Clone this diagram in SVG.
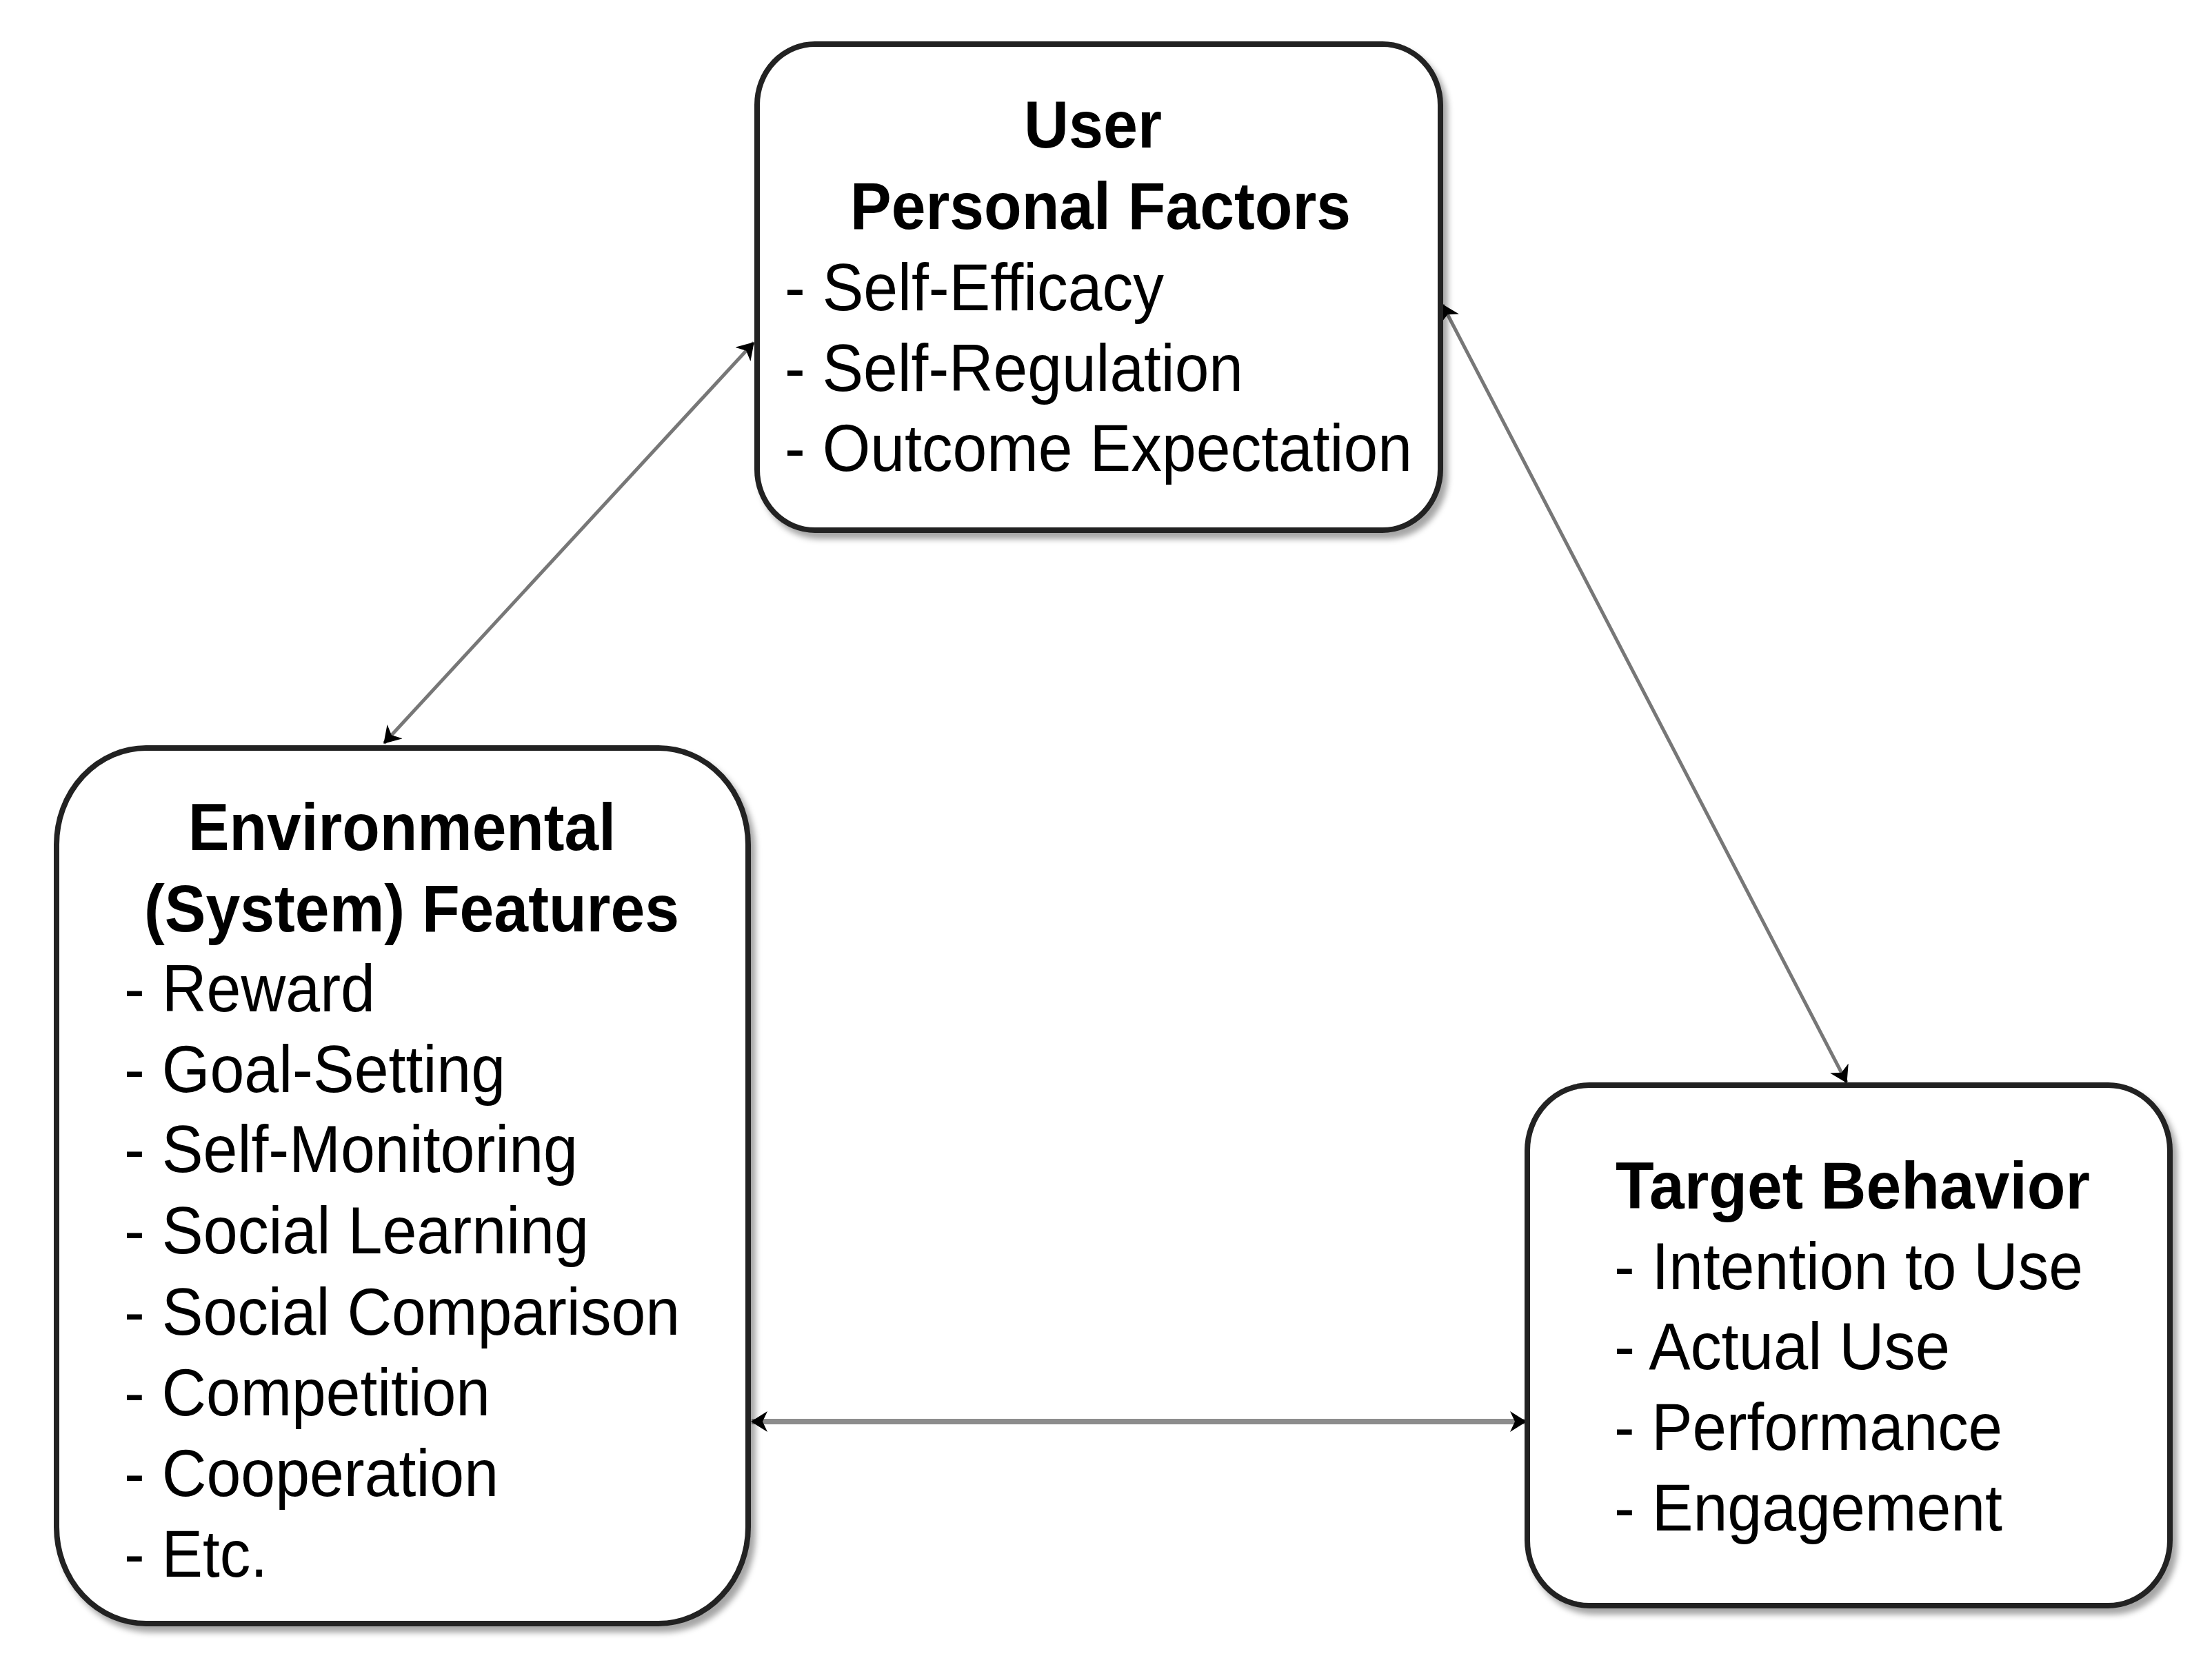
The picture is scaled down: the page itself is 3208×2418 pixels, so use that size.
<svg xmlns="http://www.w3.org/2000/svg" width="3208" height="2418" viewBox="0 0 3208 2418">
<style>
  .box { fill: #ffffff; stroke: #222222; stroke-width: 8; filter: url(#shadow); }
  .t { font-family: "Liberation Sans", Arial, sans-serif; font-size: 96px; fill: #000000; }
  .b { font-weight: bold; }
  .conn { stroke: #777777; stroke-width: 5; fill: none; marker-start: url(#arrow); marker-end: url(#arrow); }
  .conn-h { stroke: #8c8c8c; stroke-width: 8; }
</style>
<defs>
  <filter id="shadow" x="-5%" y="-5%" width="115%" height="115%">
    <feDropShadow dx="7" dy="9" stdDeviation="4" flood-color="#000000" flood-opacity="0.35"/>
  </filter>
  <marker id="arrow" viewBox="0 0 24 30" refX="23" refY="15" markerWidth="24" markerHeight="30" markerUnits="userSpaceOnUse" orient="auto-start-reverse">
    <path d="M0,0 L24,15 L0,30 L7,15 Z" fill="#000000"/>
  </marker>
</defs>
<rect width="3208" height="2418" fill="#ffffff"/>

<g id="connectors">
  <line class="conn" x1="1093" y1="497" x2="557" y2="1078"/>
  <line class="conn" x1="2092" y1="442" x2="2678" y2="1570"/>
  <line class="conn conn-h" x1="1090" y1="2062" x2="2213" y2="2062"/>
</g>

<g id="user-personal-factors">
  <rect class="box" x="1098" y="64" width="991" height="705" rx="84" ry="88"/>
  <text class="t b" x="1485" y="214" textLength="200" lengthAdjust="spacingAndGlyphs">User</text>
  <text class="t b" x="1233" y="332" textLength="726" lengthAdjust="spacingAndGlyphs">Personal Factors</text>
  <text class="t" x="1138" y="450" textLength="550" lengthAdjust="spacingAndGlyphs">- Self-Efficacy</text>
  <text class="t" x="1138" y="567" textLength="665" lengthAdjust="spacingAndGlyphs">- Self-Regulation</text>
  <text class="t" x="1138" y="683" textLength="910" lengthAdjust="spacingAndGlyphs">- Outcome Expectation</text>
</g>

<g id="environmental-features">
  <rect class="box" x="82" y="1085" width="1003" height="1270" rx="130" ry="140"/>
  <text class="t b" x="273" y="1233" textLength="620" lengthAdjust="spacingAndGlyphs">Environmental</text>
  <text class="t b" x="209" y="1351" textLength="776" lengthAdjust="spacingAndGlyphs">(System) Features</text>
  <text class="t" x="180" y="1467" textLength="364" lengthAdjust="spacingAndGlyphs">- Reward</text>
  <text class="t" x="180" y="1584" textLength="553" lengthAdjust="spacingAndGlyphs">- Goal-Setting</text>
  <text class="t" x="180" y="1700" textLength="658" lengthAdjust="spacingAndGlyphs">- Self-Monitoring</text>
  <text class="t" x="180" y="1818" textLength="674" lengthAdjust="spacingAndGlyphs">- Social Learning</text>
  <text class="t" x="180" y="1936" textLength="806" lengthAdjust="spacingAndGlyphs">- Social Comparison</text>
  <text class="t" x="180" y="2053" textLength="531" lengthAdjust="spacingAndGlyphs">- Competition</text>
  <text class="t" x="180" y="2170" textLength="543" lengthAdjust="spacingAndGlyphs">- Cooperation</text>
  <text class="t" x="180" y="2287" textLength="208" lengthAdjust="spacingAndGlyphs">- Etc.</text>
</g>

<g id="target-behavior">
  <rect class="box" x="2215" y="1574" width="932" height="755" rx="90" ry="95"/>
  <text class="t b" x="2343" y="1753" textLength="688" lengthAdjust="spacingAndGlyphs">Target Behavior</text>
  <text class="t" x="2341" y="1870" textLength="680" lengthAdjust="spacingAndGlyphs">- Intention to Use</text>
  <text class="t" x="2341" y="1986" textLength="487" lengthAdjust="spacingAndGlyphs">- Actual Use</text>
  <text class="t" x="2341" y="2103" textLength="563" lengthAdjust="spacingAndGlyphs">- Performance</text>
  <text class="t" x="2341" y="2220" textLength="563" lengthAdjust="spacingAndGlyphs">- Engagement</text>
</g>
</svg>
